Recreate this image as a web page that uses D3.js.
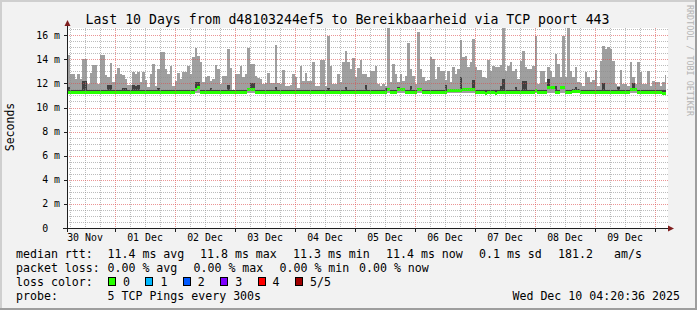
<!DOCTYPE html>
<html><head><meta charset="utf-8">
<script src="https://cdnjs.cloudflare.com/ajax/libs/d3/7.8.5/d3.min.js"></script>
<style>
html,body{margin:0;padding:0;background:#f2f2f2}
svg text{font-family:"DejaVu Sans Mono",monospace;white-space:pre}
</style></head><body><div id="chart"></div>
<script>
// hourly slots, 240 of them (10 days)
const rttMax = [
14.38,12.78,12.78,12.37,12.78,12.37,14.02,14.02,11.95,12.84,13.53,13.53,11.95,14.38,14.38,12.70,12.50,13.72,12.09,12.78,
13.30,12.78,12.70,12.37,11.90,11.90,12.92,12.78,12.92,12.09,12.92,12.28,11.67,12.78,13.61,11.81,13.20,14.58,14.58,13.20,
12.78,13.42,11.81,12.23,12.84,12.37,12.92,12.92,13.47,12.78,14.16,14.94,14.25,13.75,12.09,12.50,12.64,12.23,12.37,13.53,
13.20,11.95,12.64,12.64,14.86,13.28,11.40,12.78,12.78,13.42,12.50,12.78,14.94,13.61,13.61,12.64,12.45,12.37,11.95,12.00,
12.84,12.00,12.00,15.19,12.00,11.95,13.11,11.81,11.81,11.87,12.78,12.50,11.59,13.42,12.23,12.84,12.23,12.23,13.75,11.81,
11.81,13.94,13.94,11.81,15.93,13.47,11.95,11.95,12.78,12.09,13.80,14.72,13.75,13.20,14.08,12.50,13.25,13.97,12.78,12.78,
12.50,13.06,13.06,13.47,11.95,11.81,11.95,11.81,16.60,12.09,13.61,12.78,12.09,12.75,12.23,12.64,15.35,13.20,12.64,11.95,
16.24,13.20,12.50,12.17,12.28,14.16,14.02,12.37,13.34,13.06,13.00,12.28,13.06,12.09,13.39,12.78,13.20,15.60,14.16,14.30,
13.34,13.80,15.68,13.34,13.14,13.14,12.50,12.42,13.94,13.06,13.47,13.34,13.39,13.50,16.60,13.06,13.47,13.75,13.06,13.20,
12.37,13.89,14.70,13.34,13.20,13.20,13.47,15.93,11.95,13.06,13.06,12.09,13.39,13.06,12.50,14.44,13.61,12.50,15.93,12.50,
16.60,13.06,12.56,13.34,12.09,12.00,11.81,12.92,12.50,12.09,12.28,13.11,11.81,13.89,15.13,14.86,15.00,14.86,13.89,11.95,
11.81,13.11,11.95,11.95,11.81,13.80,12.50,11.95,13.80,12.92,11.95,11.95,13.06,11.81,12.23,12.09,12.09,11.81,12.09,12.67
];
const rttInner = [
11.67,11.42,11.42,11.42,11.42,11.42,12.20,12.20,11.42,11.42,11.42,11.42,11.42,11.42,11.42,11.42,11.85,11.85,11.42,11.42,
11.42,11.42,11.60,11.60,11.42,11.42,11.90,11.75,11.90,11.42,11.42,11.42,11.42,11.42,11.42,11.42,11.60,11.42,11.42,11.42,
11.42,11.42,11.42,11.42,11.42,11.42,11.42,11.42,11.42,11.42,11.42,12.10,12.10,11.42,11.42,11.42,11.42,11.60,11.42,11.42,
11.42,11.42,11.42,11.42,11.85,11.42,11.42,11.42,11.42,11.42,11.42,11.42,11.55,12.00,12.00,11.42,11.42,11.42,11.42,11.42,
11.42,11.42,11.42,11.70,11.42,11.42,11.42,11.42,11.42,11.42,11.42,11.42,11.42,11.42,11.42,11.42,11.42,11.42,11.42,11.42,
11.42,11.42,11.42,11.42,11.60,11.42,11.42,11.42,11.42,11.42,11.42,11.70,11.42,11.42,11.42,11.42,11.42,11.42,11.42,11.87,
11.42,11.42,11.42,11.42,11.42,11.42,11.42,11.60,11.60,11.42,11.42,11.42,11.70,11.60,11.60,11.42,11.42,11.75,11.42,11.42,
11.60,11.60,11.42,11.42,11.42,11.42,11.42,11.42,11.42,11.42,11.42,11.90,11.55,11.55,11.55,11.55,11.55,12.50,11.60,11.60,
11.60,11.60,12.30,11.42,11.42,11.42,11.42,11.42,11.42,11.42,11.42,11.42,11.42,11.80,12.40,11.42,11.42,11.42,11.42,11.70,
11.42,11.42,12.20,12.20,11.42,11.42,11.42,11.55,11.42,11.42,11.42,11.42,12.35,11.80,11.80,11.80,11.42,11.80,11.80,11.42,
11.42,11.42,11.50,11.70,11.50,11.42,11.42,11.42,11.42,11.42,11.42,11.42,11.42,11.42,12.00,11.42,11.42,11.42,11.42,11.42,
11.70,11.42,11.42,11.42,11.42,11.60,12.00,11.60,11.42,11.42,11.42,11.42,11.42,11.42,11.42,11.42,11.42,11.42,11.42,11.42
];
const rttMedian = [
11.32,11.32,11.32,11.32,11.25,11.25,11.25,11.25,11.32,11.32,11.32,11.32,11.32,11.32,11.32,11.32,11.32,11.32,11.32,11.32,
11.32,11.32,11.25,11.25,11.25,11.32,11.32,11.32,11.32,11.32,11.32,11.32,11.32,11.32,11.25,11.25,11.25,11.25,11.32,11.32,
11.32,11.32,11.32,11.32,11.32,11.25,11.25,11.25,11.25,11.32,11.32,11.50,11.73,11.32,11.32,11.32,11.32,11.32,11.32,11.32,
11.32,11.32,11.32,11.32,11.32,11.32,11.32,11.32,11.32,11.32,11.32,11.32,11.50,11.50,11.50,11.32,11.32,11.32,11.32,11.32,
11.32,11.32,11.32,11.32,11.32,11.32,11.32,11.32,11.32,11.32,11.32,11.32,11.32,11.32,11.25,11.25,11.25,11.32,11.32,11.32,
11.32,11.32,11.32,11.32,11.32,11.32,11.32,11.32,11.32,11.32,11.32,11.32,11.32,11.32,11.32,11.32,11.32,11.32,11.32,11.32,
11.32,11.32,11.32,11.32,11.32,11.32,11.32,11.32,11.50,11.32,11.32,11.32,11.50,11.50,11.50,11.32,11.32,11.32,11.32,11.32,
11.50,11.50,11.32,11.32,11.32,11.32,11.32,11.32,11.32,11.32,11.32,11.32,11.45,11.45,11.45,11.45,11.45,11.45,11.50,11.50,
11.50,11.50,11.50,11.25,11.32,11.32,11.32,11.22,11.32,11.32,11.32,11.22,11.32,11.32,11.32,11.32,11.32,11.32,11.32,11.32,
11.32,11.32,11.32,11.32,11.32,11.32,11.32,11.45,11.32,11.32,11.32,11.32,11.70,11.70,11.70,11.32,11.32,11.70,11.70,11.32,
11.32,11.32,11.40,11.40,11.40,11.32,11.32,11.32,11.32,11.32,11.32,11.32,11.32,11.32,11.32,11.32,11.32,11.32,11.32,11.32,
11.32,11.32,11.32,11.32,11.32,11.50,11.50,11.50,11.32,11.32,11.32,11.32,11.32,11.32,11.32,11.32,11.32,11.32,11.22,11.22
];
const rttMin = [
11.20,11.20,11.20,11.20,11.20,11.20,11.20,11.20,11.20,11.20,11.20,11.20,11.20,11.20,11.20,11.20,11.20,11.20,11.20,11.20,
11.20,11.20,11.20,11.20,11.10,11.10,11.20,11.20,11.20,11.20,11.20,11.20,11.20,11.20,11.20,11.20,11.20,11.20,11.20,11.20,
11.12,11.12,11.12,11.12,11.12,11.20,11.20,11.20,11.20,11.20,11.20,11.20,11.20,11.20,11.20,11.20,11.20,11.20,11.20,11.20,
11.20,11.20,11.20,11.20,11.20,11.20,11.20,11.20,11.20,11.20,11.20,11.20,11.20,11.20,11.20,11.20,11.20,11.20,11.20,11.20,
11.20,11.20,11.20,11.20,11.20,11.20,11.20,11.20,11.20,11.20,11.20,11.20,11.20,11.20,11.20,11.20,11.10,11.20,11.20,11.20,
11.20,11.20,11.20,11.20,11.20,11.20,11.20,11.20,11.20,11.20,11.20,11.20,11.20,11.20,11.20,11.20,11.20,11.20,11.20,11.20,
11.20,11.20,11.20,11.20,11.20,11.20,11.20,11.20,11.20,11.20,11.20,11.20,11.20,11.20,11.20,11.20,11.20,11.20,11.20,11.20,
11.20,11.20,11.20,11.20,11.20,11.20,11.20,11.20,11.20,11.20,11.20,11.20,11.20,11.20,11.20,11.20,11.20,11.20,11.20,11.20,
11.20,11.20,11.20,11.20,11.20,11.20,11.20,11.08,11.20,11.20,11.20,11.08,11.20,11.20,11.20,11.20,11.20,11.20,11.20,11.20,
11.20,11.20,11.20,11.20,11.20,11.20,11.20,11.20,11.20,11.20,11.20,11.20,11.20,11.20,11.20,11.20,11.20,11.20,11.20,11.20,
11.20,11.20,11.20,11.20,11.20,11.20,11.20,11.20,11.20,11.20,11.20,11.20,11.20,11.20,11.20,11.20,11.20,11.20,11.20,11.20,
11.20,11.20,11.20,11.20,11.20,11.20,11.20,11.20,11.20,11.20,11.20,11.20,11.20,11.20,11.20,11.20,11.20,11.20,11.20,11.10
];

const dayLabels = ["30 Nov", "01 Dec", "02 Dec", "03 Dec", "04 Dec", "05 Dec", "06 Dec", "07 Dec", "08 Dec", "09 Dec"];
const yTicks = [0, 2, 4, 6, 8, 10, 12, 14, 16];
const yTickLabels = ["0  ", "2 m", "4 m", "6 m", "8 m", "10 m", "12 m", "14 m", "16 m"];

const lossLabels = ["0", "1", "2", "3", "4", "5/5"];
const lossColors = ["#26ff00", "#00b8ff", "#0059ff", "#7e00ff", "#ff0000", "#a00000"];

const statsRtt = ["median rtt:", "11.4 ms avg", "11.8 ms max", "11.3 ms min", "11.4 ms now", "0.1 ms sd", "181.2", "am/s"];
const statsLoss = ["packet loss:", "0.00 % avg", "0.00 % max", "0.00 % min", "0.00 % now"];

const title = "Last 10 Days from d48103244ef5 to Bereikbaarheid via TCP poort 443";
const probeText = "5 TCP Pings every 300s";
const stamp = "Wed Dec 10 04:20:36 2025";

const W = 697, H = 310;
const HOUR = 3600e3;
const t0 = Date.UTC(2025, 10, 30, 4, 48);
const t1 = Date.UTC(2025, 11, 10, 4, 48);
const tNow = Date.UTC(2025, 11, 10, 4, 20, 36);

const x = d3.scaleUtc().domain([t0, t1]).range([67, 667]);
const y = d3.scaleLinear().domain([0, 16.6]).range([228, 28]);

const svg = d3.select("#chart").append("svg")
    .attr("width", W).attr("height", H);

// frame
svg.append("rect").attr("width", W).attr("height", H).attr("fill", "#f2f2f2");
svg.append("path").attr("d", `M0,0H${W}V2H2V${H}H0Z`).attr("fill", "#cfcfcf");
svg.append("path").attr("d", `M${W},0V${H}H0V${H-2}H${W-2}V0Z`).attr("fill", "#9e9e9e");

svg.append("rect").attr("x", 67).attr("y", 28).attr("width", 601).attr("height", 200).attr("fill", "#fff");

const slots = rttMax.map((v, i) => ({
    t: t0 + i * HOUR,
    max: v, inner: rttInner[i], med: rttMedian[i], min: rttMin[i]
}));
const sx0 = d => x(d.t);
const sw = d => x(Math.min(d.t + HOUR, tNow)) - x(d.t);

let plot = svg.append("g").attr("shape-rendering", "crispEdges");

plot.selectAll(".outer").data(slots).enter().append("rect")
    .attr("x", sx0).attr("width", sw)
    .attr("y", d => y(d.max)).attr("height", d => y(d.min) - y(d.max))
    .attr("fill", "#9f9f9f");

plot.selectAll(".inner").data(slots).enter().append("rect")
    .attr("x", sx0).attr("width", sw)
    .attr("y", d => y(d.inner)).attr("height", d => Math.max(0, y(d.med) - y(d.inner)))
    .attr("fill", "#404040");

plot.selectAll(".med").data(slots).enter().append("rect")
    .attr("x", sx0).attr("width", sw)
    .attr("y", d => Math.round(y(d.med)) - 1.5).attr("height", 3)
    .attr("fill", lossColors[0]);

// grid, on top like rrdtool
let grid = svg.append("g").attr("shape-rendering", "crispEdges").attr("stroke-dasharray", "1,1");
const minorY = d3.range(0.5, 16.6, 0.5).filter(v => v % 2 !== 0);
const majorY = yTicks.filter(v => v > 0);
const sixH = d3.utcHour.every(6).range(new Date(t0), new Date(t1));
const minorX = sixH.filter(d => d.getUTCHours() !== 0);
const majorX = sixH.filter(d => d.getUTCHours() === 0);

grid.selectAll(".gy").data(minorY).enter().append("line")
    .attr("x1", 67).attr("x2", 668)
    .attr("y1", d => Math.round(y(d)) + 0.5).attr("y2", d => Math.round(y(d)) + 0.5)
    .attr("stroke", "rgba(143,143,143,0.6)");
grid.selectAll(".gx").data(minorX).enter().append("line")
    .attr("y1", 28).attr("y2", 228)
    .attr("x1", d => Math.round(x(d)) + 0.5).attr("x2", d => Math.round(x(d)) + 0.5)
    .attr("stroke", "rgba(143,143,143,0.6)");
grid.selectAll(".my").data(majorY).enter().append("line")
    .attr("x1", 67).attr("x2", 668)
    .attr("y1", d => Math.round(y(d)) + 0.5).attr("y2", d => Math.round(y(d)) + 0.5)
    .attr("stroke", "rgba(222,79,79,0.6)");
grid.selectAll(".mx").data(majorX).enter().append("line")
    .attr("y1", 28).attr("y2", 228)
    .attr("x1", d => Math.round(x(d)) + 0.5).attr("x2", d => Math.round(x(d)) + 0.5)
    .attr("stroke", "rgba(222,79,79,0.6)");

// axes
let ax = svg.append("g").attr("shape-rendering", "crispEdges");
ax.append("line").attr("x1", 63).attr("x2", 670).attr("y1", 228.5).attr("y2", 228.5).attr("stroke", "#1f1f1f");
ax.append("line").attr("x1", 67.5).attr("x2", 67.5).attr("y1", 232).attr("y2", 24).attr("stroke", "#1f1f1f");
ax.selectAll(".ty").data(yTicks).enter().append("line")
    .attr("x1", 64).attr("x2", 67)
    .attr("y1", d => Math.round(y(d)) + 0.5).attr("y2", d => Math.round(y(d)) + 0.5)
    .attr("stroke", "#1f1f1f");
ax.selectAll(".tx").data(majorX).enter().append("line")
    .attr("y1", 229).attr("y2", 232)
    .attr("x1", d => Math.round(x(d)) + 0.5).attr("x2", d => Math.round(x(d)) + 0.5)
    .attr("stroke", "#1f1f1f");
svg.append("path").attr("d", "M668,225.5L674,228.5L668,231.5Z").attr("fill", "#801f1f");
svg.append("path").attr("d", "M64.5,26L67.5,20L70.5,26Z").attr("fill", "#801f1f");

// labels
svg.selectAll(".yl").data(yTicks).enter().append("text")
    .attr("x", 60).attr("y", d => y(d) + 3.5)
    .attr("text-anchor", "end").attr("font-size", 9.9)
    .text((d, i) => yTickLabels[i]);

svg.selectAll(".xl").data(dayLabels).enter().append("text")
    .attr("x", (d, i) => x(Date.UTC(2025, 10, 30 + i, 12)))
    .attr("y", 241).attr("text-anchor", "middle").attr("font-size", 9.9)
    .text(d => d);

svg.append("text").attr("x", 347.5).attr("y", 23.5).attr("text-anchor", "middle")
    .attr("font-size", 13.2).text(title);

svg.append("text").attr("transform", "translate(14,127) rotate(-90)")
    .attr("text-anchor", "middle").attr("font-size", 11.5).text("Seconds");

svg.append("text").attr("transform", "translate(686.5,5) rotate(90)")
    .attr("font-size", 8.4).attr("fill", "#b4b4b4").text("RRDTOOL / TOBI OETIKER");

// legend
const fs = 11.6;
const rttX = [16, 107.5, 200, 293, 386, 479, 558, 614];
svg.selectAll(".r1").data(statsRtt).enter().append("text")
    .attr("x", (d, i) => rttX[i]).attr("y", 257.5).attr("font-size", fs).text(d => d);
const lossX = [16, 107.5, 193.5, 279.5, 359];
svg.selectAll(".r2").data(statsLoss).enter().append("text")
    .attr("x", (d, i) => lossX[i]).attr("y", 271.8).attr("font-size", fs).text(d => d);

svg.append("text").attr("x", 16).attr("y", 286).attr("font-size", fs).text("loss color:");
const lg = svg.selectAll(".lc").data(lossLabels).enter().append("g")
    .attr("transform", (d, i) => `translate(${108 + i * 37.4},0)`);
lg.append("rect").attr("x", 0.5).attr("y", 277.5).attr("width", 7).attr("height", 8)
    .attr("fill", (d, i) => lossColors[i]).attr("stroke", "#000").attr("shape-rendering", "crispEdges");
lg.append("text").attr("x", 15).attr("y", 286).attr("font-size", fs).text(d => d);

svg.append("text").attr("x", 16).attr("y", 300.3).attr("font-size", fs).text("probe:");
svg.append("text").attr("x", 107.5).attr("y", 300.3).attr("font-size", fs).text(probeText);
svg.append("text").attr("x", 680).attr("y", 300.3).attr("text-anchor", "end").attr("font-size", fs).text(stamp);
</script></body></html>
